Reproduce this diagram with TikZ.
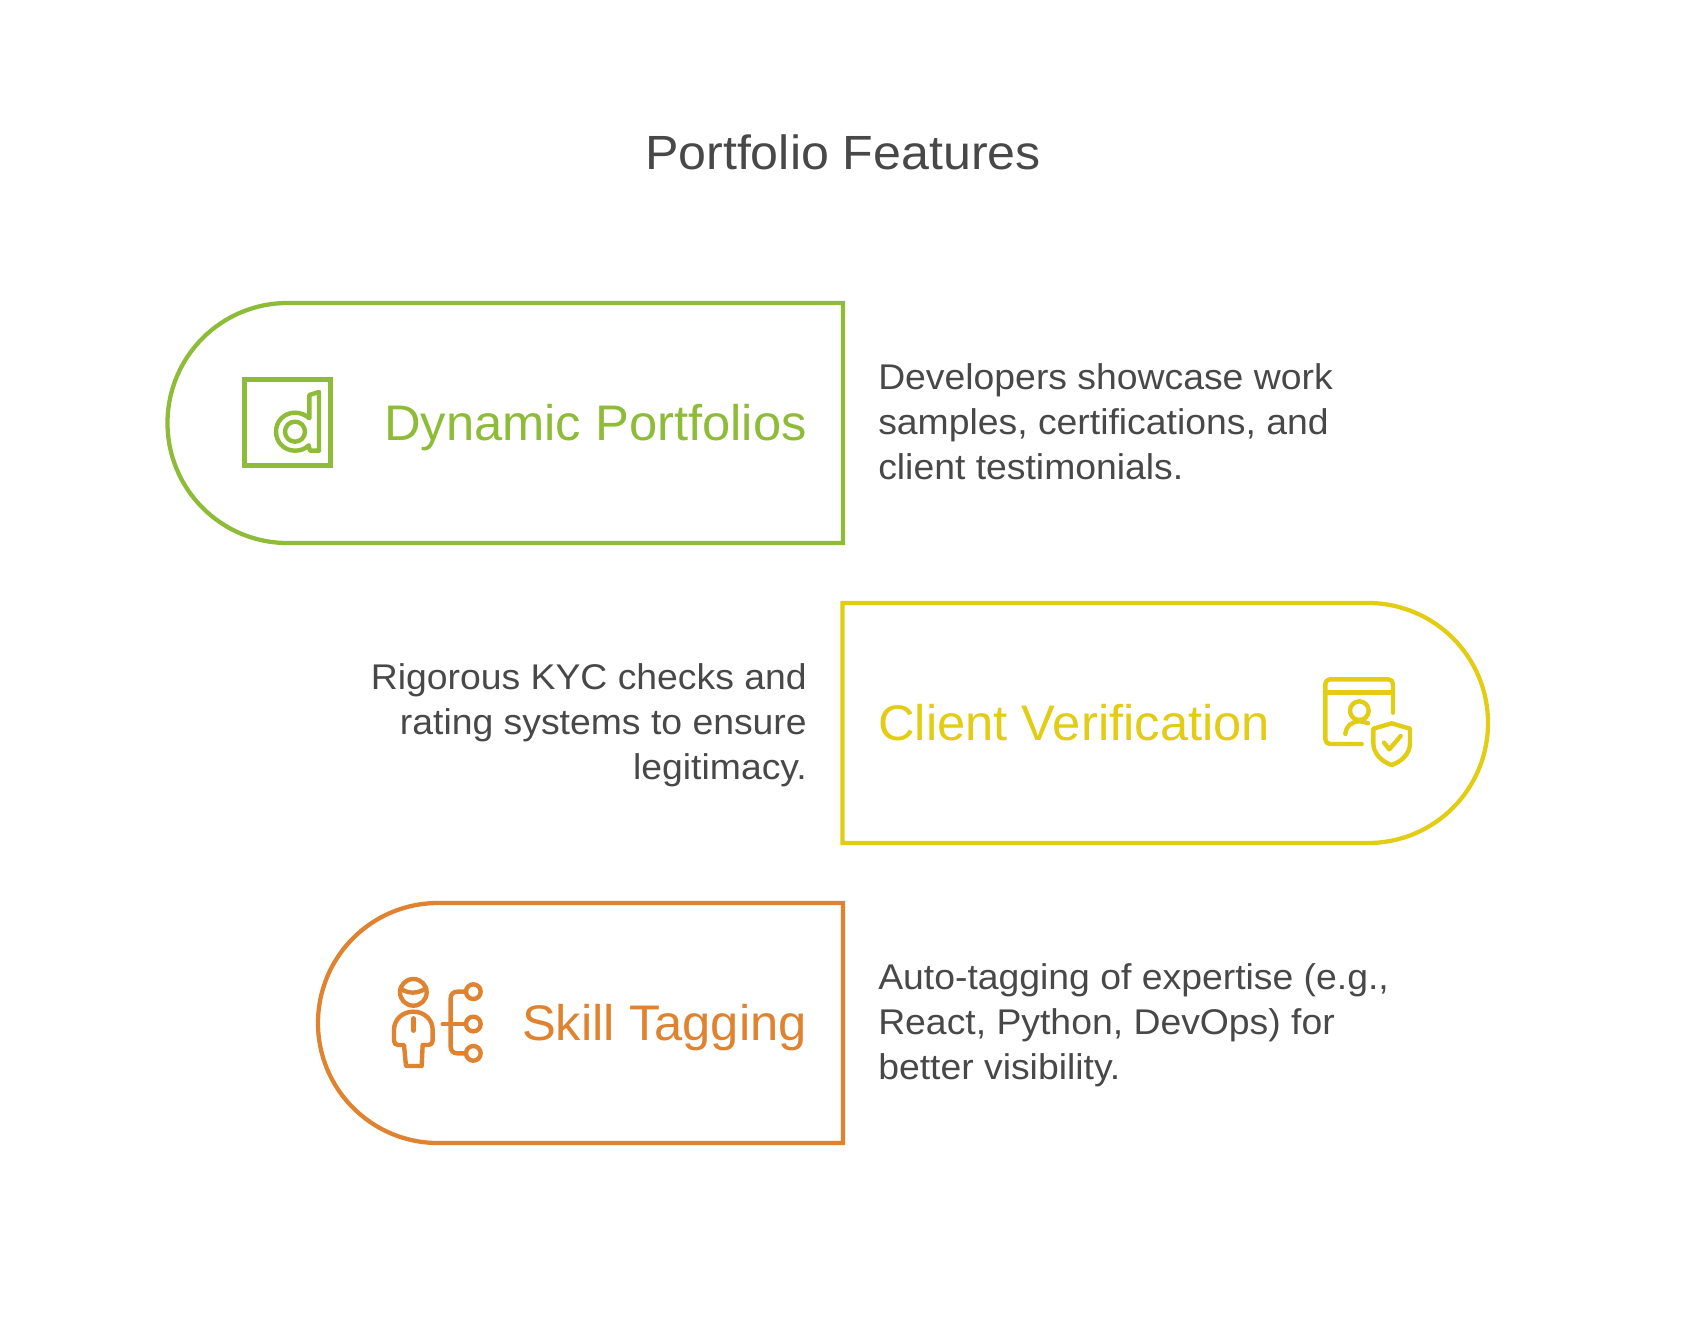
\documentclass[tikz,border=0pt]{standalone}
\usepackage{fontspec}
\setmainfont{Liberation Sans}
\newfontfamily\flabel[FakeStretch=1.014]{Liberation Sans}
\newfontfamily\fbody[FakeStretch=1.045]{Liberation Sans}
\newcommand{\lnfix}{\rule[-8pt]{0pt}{28pt}}
\definecolor{cgreen}{HTML}{8EBB38}
\definecolor{cyellow}{HTML}{E2CC14}
\definecolor{corange}{HTML}{DF8330}
\definecolor{ctext}{HTML}{484848}
\tikzset{
  stroked/.style={line width=3.2pt,line join=miter},
  icon/.style={line width=3.3pt,line cap=round,line join=round},
  title/.style={text=ctext,font=\fbody\fontsize{36}{43}\selectfont,inner sep=0pt},
  label/.style={font=\flabel\fontsize{37.5}{43}\selectfont,inner sep=0pt},
  desc/.style={text=ctext,font=\fbody\fontsize{26.8}{33.9}\selectfont,inner sep=0pt},
  crop/.style={shift={#1},x=.25pt,y=-.25pt},
}
\begin{document}
\begin{tikzpicture}[x=.75pt,y=-.75pt]
\useasboundingbox (0,0) rectangle (1685,1325);
% boxes
\draw[stroked,cgreen] (843,303) -- (287.5,303) .. controls (221.2,303) and (167.5,356.7) .. (167.5,423) .. controls (167.5,489.3) and (221.2,543) .. (287.5,543) -- (843,543) -- cycle;
\draw[stroked,cyellow] (842.5,603) -- (1368,603) .. controls (1434.3,603) and (1488,656.7) .. (1488,723) .. controls (1488,789.3) and (1434.3,843) .. (1368,843) -- (842.5,843) -- cycle;
\draw[stroked,corange] (843,903) -- (438,903) .. controls (371.7,903) and (318,956.7) .. (318,1023) .. controls (318,1089.3) and (371.7,1143) .. (438,1143) -- (843,1143) -- cycle;
% texts
\node[title,anchor=base] (ttl) at (843,169.3) {Portfolio Features};
\node[label,text=cgreen,anchor=base east] (l1) at (807,440) {Dynamic Portfolios};
\node[label,text=cyellow,anchor=base west] (l2) at (878,740) {Client Verification};
\node[label,text=corange,anchor=base east] (l3) at (807,1040) {Skill Tagging};
\node[desc,anchor=west,align=left] (d1) at (878,426.7) {\lnfix Developers showcase work\\samples, certifications, and\\\lnfix client testimonials.};
\node[desc,anchor=east,align=right] (d2) at (807,726.7) {\lnfix Rigorous KYC checks and\\rating systems to ensure\\\lnfix legitimacy.};
\node[desc,anchor=west,align=left] (d3) at (878,1026.7) {\lnfix Auto-tagging of expertise (e.g.,\\React, Python, DevOps) for\\\lnfix better visibility.};
% icon 1
\begin{scope}[crop={(220,360)},icon,cgreen]
\draw[line join=miter] (73,58) rectangle (331,317);
\draw (268,105) -- (297,96) -- (297,272) -- (270,272) -- (266,256)
  .. controls (255,267) and (241,272) .. (225,272)
  .. controls (193,272) and (168,247) .. (168,215)
  .. controls (168,183) and (193,158) .. (225,158)
  .. controls (241,158) and (256,164) .. (268,175) -- cycle;
\draw (225,215) circle[radius=30];
\end{scope}
% icon 2
\begin{scope}[crop={(1310,660)},icon,cyellow]
\draw (155,252) -- (60,252) .. controls (52,252) and (46,246) .. (46,238) -- (46,72) .. controls (46,64) and (52,58) .. (60,58) -- (235,58) .. controls (243,58) and (249,64) .. (249,72) -- (249,158);
\draw (46,98) -- (249,98);
\draw (148,152) circle[radius=28];
\draw (106,222) .. controls (108,200) and (122,185) .. (148,184) .. controls (158,184) and (166,186) .. (174,190);
\draw (245,190) -- (190,206) -- (190,250) .. controls (190,280) and (215,305) .. (245,315) .. controls (275,305) and (300,280) .. (300,250) -- (300,206) -- cycle;
\draw (222,248) -- (238,268) -- (272,228);
\end{scope}
% icon 3
\begin{scope}[crop={(380,970)},icon,corange]
\draw (100,67) circle[radius=40];
\draw (62,56) .. controls (85,72) and (115,72) .. (138,54);
\draw (78,288) -- (72,225) -- (55,225) .. controls (47,225) and (42,220) .. (42,212) -- (42,180) .. controls (42,148) and (68,125) .. (100,125) .. controls (132,125) and (158,148) .. (158,180) -- (158,212) .. controls (158,220) and (153,225) .. (145,225) -- (128,225) -- (125,288) -- cycle;
\draw (100,145) -- (100,182);
\draw (188,162) -- (258,162);
\draw (280,65) circle[radius=22];
\draw (280,162) circle[radius=22];
\draw (280,250) circle[radius=22];
\draw (258,65) -- (232,65) .. controls (220,65) and (212,73) .. (212,85) -- (212,230) .. controls (212,242) and (220,250) .. (232,250) -- (258,250);
\end{scope}
\end{tikzpicture}
\end{document}
